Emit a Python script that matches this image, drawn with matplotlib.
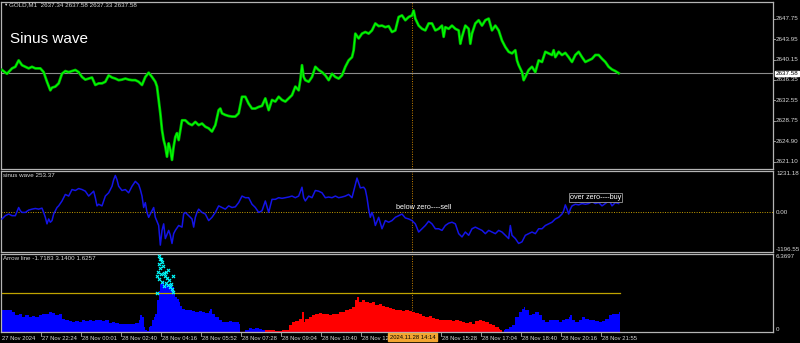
import matplotlib
matplotlib.use("Agg")
import matplotlib.pyplot as plt
import numpy as np

plt.rcParams['font.family'] = ['Liberation Sans', 'DejaVu Sans']

# ---------------- data ----------------
# price (bar index on M1 chart, close price)
price_bar = [0,12,24,32,40,48,56,64,72,80, 92,100,108,116,120,128,136,144,152,160,
             168,176,184,192,200,208,216,224,232,240, 248,256,264,272,280,288,296,304,312,320,
             328,336,344,352,360,368,372,376,380,384, 388,392,396,400,404,408,412,416,420,424,
             428,432,440,448,456,464,472,480,488,496, 504,512,520,524,528,536,544,552,560,568,
             576,584,592,600,608,616,624,632,640,648, 656,664,672,680,688,696,704,712,716,720,
             724,728,736,744,752,760,768,776,784,792, 800,808,816,824,832,840,844,848,856,864,
             872,880,888,896,904,912,920,928,936,944, 952,960,
             968,976,984,988,992,1000,1008,1016,1024,1032, 1040,1048,1056,1060,1064,1072,1080,1088,1096,1100,
             1104,1112,1120,1124,1128,1136,1144,1152,1160,1168, 1176,1184,1192,1200,1208,1216,1224,1232,1236,1240,
             1248,1252,1256,1264,1272,1280,1288,1296,1304,1312, 1320,1324,1328,1336,1344,1352,1360,1368,1376,1384,
             1392,1400,1408,1416,1424,1432,1440,1448,1456,1464, 1472,1480]
price = [2638.2,2637.5,2638.5,2638.8,2640.0,2639.1,2638.8,2638.5,2638.8,2638.5,
         2638.5,2637.8,2636.0,2634.4,2634.9,2635.1,2635.7,2637.5,2638.0,2637.8,
         2638.0,2638.2,2637.8,2636.9,2636.4,2636.6,2636.8,2635.4,2635.7,2635.7,
         2636.0,2637.2,2636.8,2636.6,2636.3,2636.4,2636.6,2636.4,2636.3,2636.3,
         2636.0,2635.4,2636.9,2637.7,2636.9,2636.0,2635.1,2632.6,2630.1,2627.0,
         2625.1,2623.9,2622.0,2624.5,2623.3,2621.4,2623.9,2625.7,2626.4,2625.1,
         2627.0,2628.8,2628.8,2628.2,2627.9,2628.5,2627.9,2628.2,2627.6,2627.3,
         2626.7,2627.9,2630.7,2631.0,2630.1,2629.8,2629.6,2629.5,2629.5,2630.1,
         2633.2,2633.2,2631.9,2631.0,2631.0,2631.3,2631.5,2632.9,2630.7,2632.6,
         2632.3,2633.2,2632.6,2632.3,2632.9,2633.5,2635.1,2634.4,2636.3,2639.1,
         2636.9,2636.3,2636.0,2636.9,2638.8,2638.2,2637.8,2637.2,2636.3,2637.5,
         2636.9,2636.6,2637.2,2638.8,2640.0,2640.6,2641.9,2645.0,2644.1,2645.0,
         2645.3,2645.0,2645.6,2646.9,2646.4,2646.5,2646.2,2646.4,2645.3,2645.6,
         2648.1,2648.4,
         2647.5,2648.1,2648.4,2649.3,2647.8,2646.5,2645.9,2645.6,2646.9,2646.9,
         2645.6,2645.9,2646.5,2644.4,2646.2,2645.9,2646.5,2645.9,2645.6,2643.1,
         2644.4,2646.5,2645.9,2643.1,2645.0,2646.9,2647.5,2646.5,2647.5,2647.8,
         2645.6,2646.5,2645.6,2643.7,2642.5,2641.6,2641.3,2641.9,2640.0,2639.1,
         2637.8,2636.3,2636.9,2638.2,2638.8,2637.8,2640.0,2639.7,2641.6,2641.3,
         2641.0,2641.9,2640.6,2641.6,2641.0,2641.4,2640.6,2639.7,2641.0,2641.6,
         2640.6,2639.7,2640.0,2640.3,2641.0,2641.0,2640.3,2639.7,2638.8,2638.3,
         2638.0,2637.6]
last_price = 2637.58
price_ticks = [2647.75, 2643.95, 2640.15, 2636.35, 2632.55, 2628.75, 2624.90, 2621.10]
price_tick_labels = ["2647.75", "2643.95", "2640.15", "2636.35", "2632.55", "2628.75", "2624.90", "2621.10"]
price_range = (2619.7, 2651.0)

# sinus wave indicator
sin_bar = [0,8,16,24,32,40,44,48,56,64, 72,80,88,96,100,104,108,112,116,120,
           124,128,132,136,144,152,160,168,176,184, 192,200,208,216,220,224,228,232,240,248,
           256,264,268,272,276,280,288,296,304,312, 320,328,332,336,340,344,348,352,360,364,
           368,376,380,384,388,392,400,404,408,412, 416,424,432,436,440,448,456,460,464,468,
           472,480,488,496,504,512,520,528,536,544, 552,560,568,576,584,592,600,608,616,624,
           632,640,648,656,664,672,680,688,696,704, 712,720,724,728,736,744,752,760,768,776,
           784,792,800,808,816,824,832,840,844,848, 852,856,860,868,872,876,880,884,888,892,
           896,904,912,920,928,936,944,952,960,
           968,976,984,992,1000,1008,1016,1024,1032,1040, 1048,1056,1064,1072,1080,1088,1096,1104,1112,1120,
           1128,1136,1144,1152,1160,1168,1176,1184,1192,1200, 1208,1216,1220,1224,1232,1240,1248,1256,1264,1272,
           1280,1288,1296,1304,1312,1320,1328,1336,1344,1348, 1352,1356,1360,1364,1368,1376,1384,1392,1400,1408,
           1416,1424,1432,1440,1448,1456,1460,1464,1472,1480]
sin_val = [-206,-108,-59,-108,-108,137,39,-10,-10,59,
           88,108,88,118,-10,-157,-353,-206,-304,-255,
           -59,39,137,186,333,529,480,676,647,706,
           676,627,480,578,627,431,186,235,186,480,
           578,774,970,1098,970,774,647,676,578,774,
           921,823,676,480,137,284,-10,-157,39,137,
           -157,-402,-990,-549,-353,-794,-549,-696,-941,-647,
           -549,-402,-451,-59,-10,-108,-206,-451,-157,-10,
           88,-10,-59,-255,-157,-10,186,137,88,186,
           137,157,284,480,431,431,235,137,-10,39,
           333,-10,382,382,431,412,431,451,480,431,
           480,745,431,333,480,431,647,627,578,431,
           451,431,480,431,451,480,529,431,627,823,
           1019,872,725,745,676,431,88,-157,-10,-157,
           -402,-157,-500,-255,-304,-255,-157,-108,-59,
           -176,-206,-255,-353,-598,-500,-402,-274,-353,-500,
           -500,-549,-402,-333,-304,-353,-647,-745,-598,-696,
           -500,-451,-500,-549,-647,-549,-598,-647,-549,-598,
           -696,-794,-402,-696,-794,-941,-892,-696,-647,-598,
           -647,-500,-500,-402,-353,-304,-206,-157,-59,39,
           216,88,-59,88,186,235,216,255,235,255,
           314,255,284,186,255,333,284,186,284,255]
sin_range = (-1196.55, 1231.18)

# arrow line histogram (positive = blue, negative = red)
hist_bar = [0,8,16,24,32,40,48,56,64,72, 80,88,96,104,112,120,128,136,144,152,
            160,168,176,184,192,200,208,216,224,232, 240,248,256,264,272,280,288,296,304,312,
            320,328,332,336,340,344,348,352,356,360, 364,368,372,376,380,384,388,392,396,400,
            404,408,412,416,420,424,428,432,440,448, 456,464,472,480,488,496,500,504,512,520,
            528,536,544,552,560,568,572,576,584,592, 600,608,616,624,632,640,648,656,664,672,
            680,688,696,704,712,720,724,728,736,744, 752,760,768,776,784,792,800,808,816,824,
            832,840,848,852,856,864,872,880,888,896, 904,912,920,928,936,944,952,960,
            968,976,984,992,1000,1008,1016,1024,1032,1040, 1048,1056,1064,1072,1080,1088,1096,1104,1112,1120,
            1128,1136,1144,1152,1160,1168,1176,1184,1192,1196, 1200,1204,1208,1216,1224,1232,1240,1248,1252,1256,
            1264,1272,1280,1288,1296,1304,1312,1320,1328,1336, 1344,1352,1360,1364,1368,1376,1384,1392,1400,1408,
            1416,1424,1432,1440,1448,1456,1464,1472,1480]
hist_val = [1.80,1.75,1.80,1.61,1.35,1.48,1.21,1.35,1.21,1.26,
            1.21,1.35,1.43,1.48,1.61,1.53,1.35,1.43,1.08,0.94,
            0.89,0.81,0.89,0.81,0.94,0.89,1.00,0.89,0.94,0.94,
            0.89,0.94,0.73,0.81,0.73,0.67,0.62,0.67,0.62,0.67,
            0.73,0.94,1.35,1.21,0.40,0.13,0.05,0.40,0.46,0.94,
            1.21,1.48,2.56,3.36,3.90,4.04,3.63,3.90,3.77,3.77,
            3.90,3.63,3.09,2.82,2.69,2.42,2.15,1.88,1.75,1.80,
            1.69,1.61,1.69,1.61,1.53,1.69,1.88,1.48,1.21,0.94,
            0.81,0.81,0.89,0.81,0.81,0.67,0.0,0.0,0.19,0.35,
            0.27,0.35,0.27,0.19,-0.13,-0.13,-0.19,-0.08,-0.05,-0.13,
            -0.19,-0.54,-0.81,-0.89,-1.08,-1.61,-0.81,-1.08,-1.21,-1.35,
            -1.48,-1.53,-1.43,-1.48,-1.35,-1.43,-1.48,-1.61,-1.61,-1.80,
            -1.88,-2.02,-2.56,-2.82,-2.42,-2.56,-2.42,-2.34,-2.42,-2.23,
            -2.29,-2.15,-2.02,-1.96,-1.88,-1.75,-1.75,-1.69,
            -1.75,-1.69,-1.61,-1.53,-1.43,-1.26,-1.21,-1.26,-1.16,-1.08,
            -1.00,-0.94,-0.94,-1.00,-0.89,-0.94,-0.89,-0.81,-0.73,-0.81,
            -0.67,-0.89,-0.94,-0.89,-0.81,-0.67,-0.54,-0.40,-0.27,-0.13,
            -0.02,0.13,0.27,0.40,0.54,1.21,1.61,1.88,2.02,1.75,
            1.35,1.48,1.61,1.35,0.94,0.81,0.94,1.00,0.94,0.81,
            0.94,1.08,1.21,1.35,0.94,0.81,0.94,1.21,1.08,0.94,
            0.94,0.89,0.81,0.89,1.08,1.35,1.43,1.48,1.61]
hist_range = (0, 6.3697)
arrow_level = 3.14

# arrow signals (cyan crosses)
arrow_bar = [377,379,377,384,386,379,374,382,389,391,396,401,372,377,384,394,398,403,408,410,372,406,389,410,398,382,394]
arrow_val = [6.14,5.89,5.48,5.65,5.32,5.16,4.83,4.67,4.75,4.51,4.35,4.19,4.51,4.27,4.03,3.94,3.78,3.62,3.45,3.21,3.13,3.86,3.70,4.51,5.00,5.95,4.90]

# time axis labels (the 13:52 label is hidden under the crosshair date box)
time_bars = [0,96,192,288,384,480,576,672,768,864,1056,1152,1248,1344,1440]
time_labels = ["27 Nov 2024", "27 Nov 22:24", "28 Nov 00:01", "28 Nov 02:40", "28 Nov 04:16",
               "28 Nov 05:52", "28 Nov 07:28", "28 Nov 09:04", "28 Nov 10:40", "28 Nov 12:",
               "28 Nov 15:28", "28 Nov 17:04", "28 Nov 18:40", "28 Nov 20:16", "28 Nov 21:55"]
cross_bar = 985
cross_label = "2024.11.28 14:14"

# ---------------- drawing ----------------
W, H = 800, 343
fig = plt.figure(figsize=(W/100, H/100), dpi=100, facecolor='black')
XLIM = (-2.4, 1850.4)
GRID = '#b4b4b4'
TXT = '#d8d8d8'
FS = 4.5
FSX = 4.25

def rect(top, bottom):
    return [1/W, 1 - bottom/H, 772/W, (bottom - top)/H]

ax1 = fig.add_axes(rect(1.5, 169))
ax2 = fig.add_axes(rect(171, 252))
ax3 = fig.add_axes(rect(253.5, 332))

for ax in (ax1, ax2, ax3):
    ax.set_facecolor('black')
    ax.set_xlim(*XLIM)
    for s in ax.spines.values():
        s.set_color(GRID)
        s.set_linewidth(0.9)
    ax.set_xticks([])
    ax.set_yticks([])
    ax.axvline(cross_bar, color='#c88200', lw=0.7, ls=(0, (1, 1.5)), zorder=1)

# main price panel
ax1.set_ylim(*price_range)
ax1.axhline(last_price, color='#8c8c8c', lw=0.8, zorder=1)
ax1.plot(price_bar, price, color='#00b000', lw=2.0, zorder=3)
ax1.plot(price_bar, price, color='#00ff00', lw=0.9, zorder=4)
ytr1 = ax1.get_yaxis_transform()
for v, lab in zip(price_ticks, price_tick_labels):
    ax1.text(1.004, v, lab, transform=ytr1, fontsize=FS, color=TXT, va='center', ha='left', clip_on=False)
    ax1.plot([1.0, 1.003], [v, v], transform=ytr1, color=GRID, lw=0.6, clip_on=False)
ax1.text(1.0035, last_price, "2637.58", transform=ytr1, fontsize=FS, color='black', va='center', ha='left',
         clip_on=False, zorder=10,
         bbox=dict(boxstyle='square,pad=0.05', fc='white', ec='white'))

# sinus panel
ax2.set_ylim(*sin_range)
ax2.axhline(0, color='#c8a000', lw=0.7, ls=(0, (1, 1.5)), zorder=1)
ax2.plot(sin_bar, sin_val, color='#1414e6', lw=1.1, zorder=3)
ytr2 = ax2.get_yaxis_transform()
ax2.text(1.004, sin_range[1], "1231.18", transform=ytr2, fontsize=FS, color=TXT, va='top', ha='left', clip_on=False)
ax2.text(1.004, 0, "0.00", transform=ytr2, fontsize=FS, color=TXT, va='center', ha='left', clip_on=False)
ax2.text(1.004, sin_range[0], "-1196.55", transform=ytr2, fontsize=FS, color=TXT, va='bottom', ha='left', clip_on=False)
ax2.text(2, 1.0 - 0.03, "sinus wave 253.37", transform=ax2.get_xaxis_transform(), fontsize=FS, color=TXT,
         va='top', ha='left')
ax2.text(946, 131, "below zero----sell", fontsize=5.2, color='white', va='center', ha='left', zorder=6)
ax2.text(1363, 437, "over zero----buy", fontsize=5.2, color='white', va='center', ha='left', zorder=6,
         bbox=dict(boxstyle='square,pad=0.1', fc='black', ec='#9a9a9a', lw=0.6))

# arrow line panel
ax3.set_ylim(*hist_range)
hb = np.array(hist_bar, dtype=float)
hv = np.array(hist_val)
widths = np.diff(np.append(hb, hb[-1] + 4))
cols = np.where(hv >= 0, '#0000ff', '#ff0000')
ax3.bar(hb, np.abs(hv), width=widths, align='edge', color=cols, linewidth=0, zorder=2)
ax3.plot([0, hist_bar[-1] + 4], [arrow_level, arrow_level], color='#c0a400', lw=0.9, zorder=3)
ax3.plot([0, hist_bar[-1] + 4], [0.03, 0.03], color='#c000c0', lw=0.9, zorder=3)
ax3.scatter(arrow_bar, arrow_val, marker='x', s=5, color='#00ffff', linewidths=0.8, zorder=5)
ytr3 = ax3.get_yaxis_transform()
ax3.text(1.004, hist_range[1], "6.3697", transform=ytr3, fontsize=FS, color=TXT, va='top', ha='left', clip_on=False)
ax3.text(1.004, 0, "0", transform=ytr3, fontsize=FS, color=TXT, va='bottom', ha='left', clip_on=False)
ax3.text(2, 0.97, "Arrow line -1.7183 3.1400 1.6257", transform=ax3.get_xaxis_transform(), fontsize=FS,
         color=TXT, va='top', ha='left')

# time axis
xtr3 = ax3.get_xaxis_transform()
for b, lab in zip(time_bars, time_labels):
    if b > 0:
        ax3.plot([b - 3, b - 3], [0, -0.05], transform=xtr3, color=GRID, lw=0.6, clip_on=False)
    ax3.text(b, -0.05, lab, transform=xtr3, fontsize=FSX, color=TXT, va='top', ha='left', clip_on=False, zorder=5)
ax3.plot([957, 957], [0, -0.05], transform=xtr3, color=GRID, lw=0.6, clip_on=False)
ax3.text(cross_bar, -0.035, cross_label, transform=xtr3, fontsize=FSX, color='black', va='top', ha='center',
         clip_on=False, zorder=20,
         bbox=dict(boxstyle='square,pad=0.25', fc='#f2a531', ec='#f2a531'))

# header texts
fig.text(3/W, 1 - 5/H, "▼", fontsize=3.2, color=TXT, va='center', ha='left')
fig.text(9/W, 1 - 5/H, "GOLD,M1  2637.34 2637.58 2637.33 2637.58", fontsize=FS, color=TXT, va='center', ha='left')
fig.text(10/W, 1 - 39/H, "Sinus wave", fontsize=11, color='white', va='center', ha='left')

fig.savefig("out.png", dpi=100, facecolor='black')
